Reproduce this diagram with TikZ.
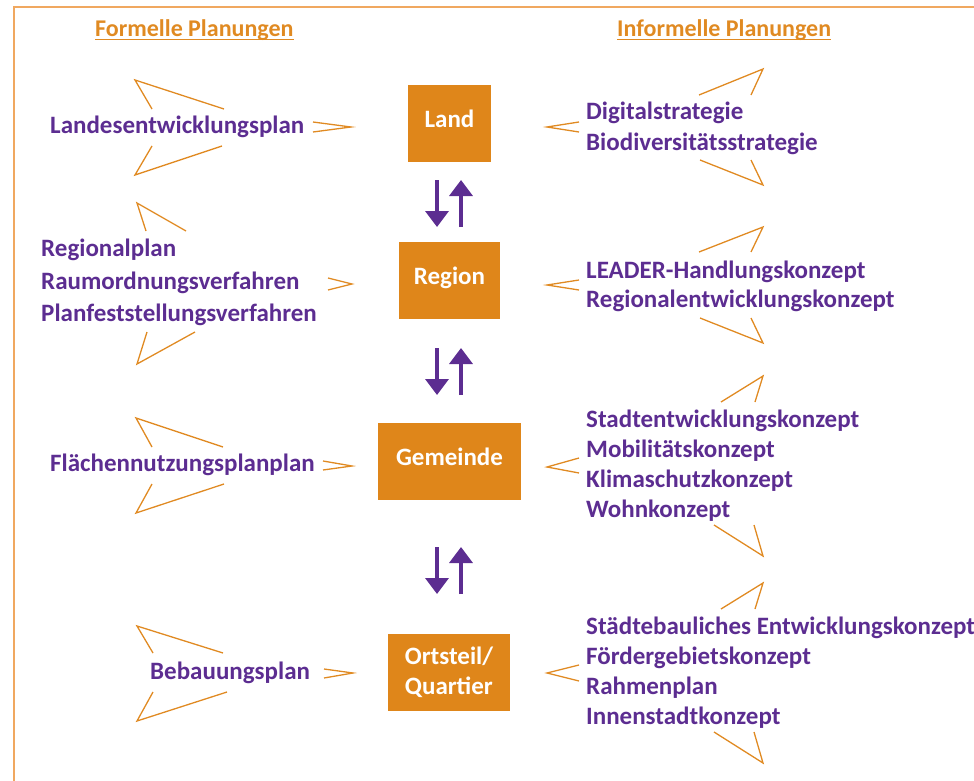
\documentclass[tikz,border=0pt]{standalone}
\usepackage{fontspec}
\setmainfont{Carlito}
\usetikzlibrary{arrows.meta}
\definecolor{vio}{HTML}{5C2D91}
\definecolor{org}{HTML}{DF861A}
\definecolor{lorg}{HTML}{E08A22}
\definecolor{framec}{HTML}{F0A860}
\tikzset{
 lbl/.style={anchor=base west, inner sep=0pt, font=\fontsize{25}{30}\selectfont\bfseries, text=vio},
 hdr/.style={anchor=base west, inner sep=0pt, font=\fontsize{24}{28}\selectfont\bfseries, text=lorg},
 lvl/.style={fill=org, inner sep=0pt, minimum height=77pt, text=white, font=\fontsize{25}{30}\selectfont\bfseries},
 chev/.style={draw=lorg, line width=1.3pt, line join=miter},
 flow/.style={draw=vio, line width=3.6pt, -{Triangle[width=23pt,length=16pt]}},
}
\begin{document}
\begin{tikzpicture}[x=1pt,y=-1pt]
\useasboundingbox (0,0) rectangle (974,781);
\draw[framec, line width=2pt] (14,781) -- (14,7) -- (974,7);

% headers
\node[hdr] (hf) at (95,37) {Formelle Planungen};
\node[hdr] (hi) at (617,37) {Informelle Planungen};
\draw[lorg, line width=1.3pt] ([yshift=-2.5pt]hf.base west) -- ([yshift=-2.5pt]hf.base east);
\draw[lorg, line width=1.3pt] ([yshift=-2.5pt]hi.base west) -- ([yshift=-2.5pt]hi.base east);

% level boxes
\node[lvl, minimum width=83pt, text height=16pt, text depth=7.5pt] (land) at (449.5,123.5) {Land};
\node[lvl, minimum width=101pt, text height=16pt, text depth=7.5pt] (region) at (449.5,280.5) {Region};
\node[lvl, minimum width=143pt, text height=16pt, text depth=7.5pt] (gemeinde) at (449.5,461.5) {Gemeinde};
\node[lvl, minimum width=122pt, align=left] (ortsteil) at (449,672.5) {Ortsteil/\\Quartier};

% vertical arrows
\coordinate (d1a) at (437,180); \coordinate (d1b) at (437,227);
\coordinate (u1a) at (461,227); \coordinate (u1b) at (461,180);
\coordinate (d2a) at (437,348); \coordinate (d2b) at (437,395);
\coordinate (u2a) at (461,395); \coordinate (u2b) at (461,348);
\coordinate (d3a) at (437,547); \coordinate (d3b) at (437,594);
\coordinate (u3a) at (461,594); \coordinate (u3b) at (461,547);
\draw[flow] (d1a) -- (d1b);
\draw[flow] (u1a) -- (u1b);
\draw[flow] (d2a) -- (d2b);
\draw[flow] (u2a) -- (u2b);
\draw[flow] (d3a) -- (d3b);
\draw[flow] (u3a) -- (u3b);

% left texts
\node[lbl] (lep) at (50,133) {Landesentwicklungsplan};
\node[lbl] (rp1) at (41,256) {Regionalplan};
\node[lbl] (rp2) at (41,289) {Raumordnungsverfahren};
\node[lbl] (rp3) at (41,321.5) {Planfeststellungsverfahren};
\node[lbl] (fnp) at (50,471) {Flächennutzungsplanplan};
\node[lbl] (bp) at (150,679) {Bebauungsplan};

% right texts
\node[lbl] (r11) at (586,120) {Digitalstrategie};
\node[lbl] (r12) at (586,150) {Biodiversitätsstrategie};
\node[lbl] (r21) at (586,278) {LEADER-Handlungskonzept};
\node[lbl] (r22) at (586,307.5) {Regionalentwicklungskonzept};
\node[lbl] (r31) at (586,427) {Stadtentwicklungskonzept};
\node[lbl] (r32) at (586,457) {Mobilitätskonzept};
\node[lbl] (r33) at (586,487) {Klimaschutzkonzept};
\node[lbl] (r34) at (586,517) {Wohnkonzept};
\node[lbl] (r41) at (586,634) {Städtebauliches Entwicklungskonzept};
\node[lbl] (r42) at (586,664) {Fördergebietskonzept};
\node[lbl] (r43) at (586,694) {Rahmenplan};
\node[lbl] (r44) at (586,724) {Innenstadtkonzept};

% chevrons left
\draw[chev] (152,109) -- (135,80) -- (224,109);
\draw[chev] (152,146) -- (135,175) -- (222,146);
\draw[chev] (313,122) -- (351,127) -- (313,132);
\draw[chev] (146,231) -- (137,203) -- (186,231);
\draw[chev] (147,332) -- (137,364) -- (195,332);
\draw[chev] (328,278) -- (352,284) -- (328,290);
\draw[chev] (152,447) -- (136,418) -- (223,447);
\draw[chev] (152,484) -- (136,513) -- (224,484);
\draw[chev] (323,461) -- (352,466) -- (323,470);
\draw[chev] (153,653) -- (137,626) -- (223,653);
\draw[chev] (153,692) -- (137,721) -- (227,692);
\draw[chev] (324,669) -- (353,673) -- (324,678);
% chevrons right
\draw[chev] (579,122) -- (547,127) -- (579,132);
\draw[chev] (699,95) -- (763,69) -- (751,95);
\draw[chev] (700,160) -- (763,185) -- (751,160);
\draw[chev] (579,280) -- (547,285) -- (579,290);
\draw[chev] (699,252) -- (763,227) -- (751,252);
\draw[chev] (700,318) -- (763,343) -- (751,318);
\draw[chev] (579,458) -- (547,467) -- (579,473);
\draw[chev] (721,402) -- (763,376) -- (755,402);
\draw[chev] (714,525) -- (763,556) -- (754,525);
\draw[chev] (579,665) -- (547,673) -- (579,681);
\draw[chev] (721,609) -- (763,583) -- (755,609);
\draw[chev] (714,732) -- (763,763) -- (754,732);
\end{tikzpicture}
\end{document}
